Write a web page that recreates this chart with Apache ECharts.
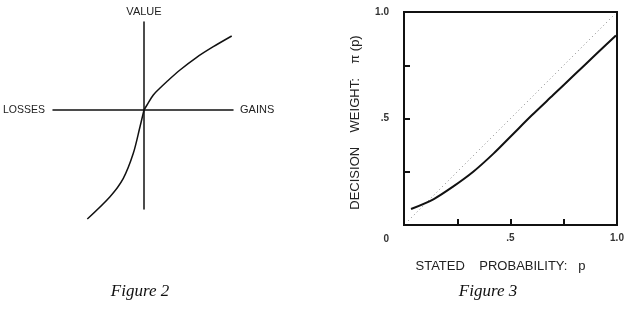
<!DOCTYPE html>
<html>
<head>
<meta charset="utf-8">
<script src="https://cdn.jsdelivr.net/npm/echarts@6/dist/echarts.min.js"></script>
<style>html,body{margin:0;padding:0;background:#fff}#c{width:636px;height:316px}</style>
</head>
<body>
<div id="c"></div>
<script>
// Figure 2: value function (gains and losses relative to reference point)
const gainX = [0, 0.03, 0.093, 0.15, 0.227, 0.36, 0.527, 0.693, 0.877];
const gainV = [0, 0.05, 0.15, 0.21, 0.283, 0.40, 0.527, 0.633, 0.74];
const lossX = [0, -0.04, -0.107, -0.207, -0.34, -0.567];
const lossV = [0, -0.167, -0.433, -0.683, -0.867, -1.09];
const valueAxisMin = -0.91, valueAxisMax = 0.89;   // horizontal extent (losses .. gains)
const valueVMin = -0.99, valueVMax = 0.88;         // vertical extent

// Figure 3: decision weight vs stated probability
const probP = [0.033, 0.14, 0.23, 0.325, 0.42, 0.51, 0.6, 0.7, 0.8, 0.9, 0.995];
const weightPi = [0.075, 0.122, 0.18, 0.25, 0.335, 0.425, 0.515, 0.61, 0.705, 0.8, 0.89];
const diagX = [0.02, 0.99];
const diagY = [0.02, 0.99];

// tick labels
const xTickLabels = {0.5: '.5', 1: '1.0'};
const yTickLabels = {0: '0', 0.5: '.5', 1: '1.0'};

const zip = (a, b) => a.map((v, i) => [v, b[i]]);
const FONT = 'Liberation Sans';
const INK = '#111';
const NB = '\u00a0';

const chart = echarts.init(document.getElementById('c'), null, {renderer: 'canvas'});
chart.setOption({
  animation: false,
  backgroundColor: '#fff',
  grid: [
    {left: 53, top: 22, width: 180, height: 187},
    {left: 404, top: 12, width: 213, height: 213, show: true, borderColor: INK, borderWidth: 2, backgroundColor: 'transparent'}
  ],
  xAxis: [
    {gridIndex: 0, type: 'value', min: valueAxisMin, max: valueAxisMax,
     axisLine: {onZero: true, lineStyle: {color: INK, width: 1.5}},
     axisTick: {show: false}, axisLabel: {show: false}, splitLine: {show: false},
     name: 'GAINS', nameLocation: 'end', nameGap: 7,
     nameTextStyle: {fontFamily: FONT, fontSize: 11, color: '#222', verticalAlign: 'middle'}},
    {gridIndex: 1, type: 'value', min: 0, max: 1, interval: 0.25,
     axisLine: {show: false},
     axisTick: {show: true, inside: true, length: 6, lineStyle: {color: INK, width: 2}},
     axisLabel: {margin: 8, fontFamily: FONT, fontSize: 10, fontWeight: 'bold', color: '#333',
       formatter: v => xTickLabels[v] || ''},
     splitLine: {show: false},
     name: 'STATED' + NB.repeat(4) + 'PROBABILITY:' + NB.repeat(3) + 'p', nameLocation: 'middle', nameGap: 35,
     nameTextStyle: {fontFamily: FONT, fontSize: 13, color: '#222', padding: [0, 20, 0, 0]}}
  ],
  yAxis: [
    {gridIndex: 0, type: 'value', min: valueVMin, max: valueVMax,
     axisLine: {onZero: true, lineStyle: {color: INK, width: 1.5}},
     axisTick: {show: false}, axisLabel: {show: false}, splitLine: {show: false},
     name: 'VALUE', nameLocation: 'end', nameGap: 5,
     nameTextStyle: {fontFamily: FONT, fontSize: 11, color: '#222', align: 'center'}},
    {gridIndex: 1, type: 'value', min: 0, max: 1, interval: 0.25,
     axisLine: {show: false},
     axisTick: {show: true, inside: true, length: 6, lineStyle: {color: INK, width: 2}},
     axisLabel: {margin: 15, fontFamily: FONT, fontSize: 10, fontWeight: 'bold', color: '#333',
       formatter: v => v === 0 ? '{o|0}' : (yTickLabels[v] || ''),
       rich: {o: {fontFamily: FONT, fontSize: 10, fontWeight: 'bold', color: '#333', padding: [28, 0, 0, 0]}}},
     splitLine: {show: false},
     name: 'DECISION' + NB.repeat(4) + 'WEIGHT:' + NB.repeat(4) + '\u03c0' + NB + '(p)', nameLocation: 'middle', nameGap: 42,
     nameTextStyle: {fontFamily: FONT, fontSize: 13, color: '#222', padding: [0, 8, 0, 0]}}
  ],
  series: [
    {type: 'line', xAxisIndex: 0, yAxisIndex: 0, data: zip(gainX, gainV), smooth: 0.3,
     showSymbol: false, clip: false, lineStyle: {color: INK, width: 1.5}},
    {type: 'line', xAxisIndex: 0, yAxisIndex: 0, data: zip(lossX, lossV), smooth: 0.3,
     showSymbol: false, clip: false, lineStyle: {color: INK, width: 1.5}},
    {type: 'line', xAxisIndex: 1, yAxisIndex: 1, data: zip(diagX, diagY),
     showSymbol: false, lineStyle: {color: '#888', width: 1, type: [1, 3]}},
    {type: 'line', xAxisIndex: 1, yAxisIndex: 1, data: zip(probP, weightPi), smooth: 0.3,
     showSymbol: false, lineStyle: {color: INK, width: 2}}
  ]
});

// "LOSSES" label at the left end of the horizontal axis of Figure 2
const lossEnd = chart.convertToPixel({xAxisIndex: 0, yAxisIndex: 0}, [valueAxisMin, 0]);
chart.setOption({
  graphic: [
    {type: 'text', x: lossEnd[0] - 8, y: lossEnd[1], style: {text: 'LOSSES', font: '10.5px "Liberation Sans"', fill: '#222', align: 'right', verticalAlign: 'middle'}},
    {type: 'text', x: 140, y: 292, style: {text: 'Figure 2', font: 'italic 17px "Liberation Serif"', fill: '#111', align: 'center', verticalAlign: 'middle'}},
    {type: 'text', x: 488, y: 292, style: {text: 'Figure 3', font: 'italic 17px "Liberation Serif"', fill: '#111', align: 'center', verticalAlign: 'middle'}}
  ]
});
</script>
</body>
</html>
